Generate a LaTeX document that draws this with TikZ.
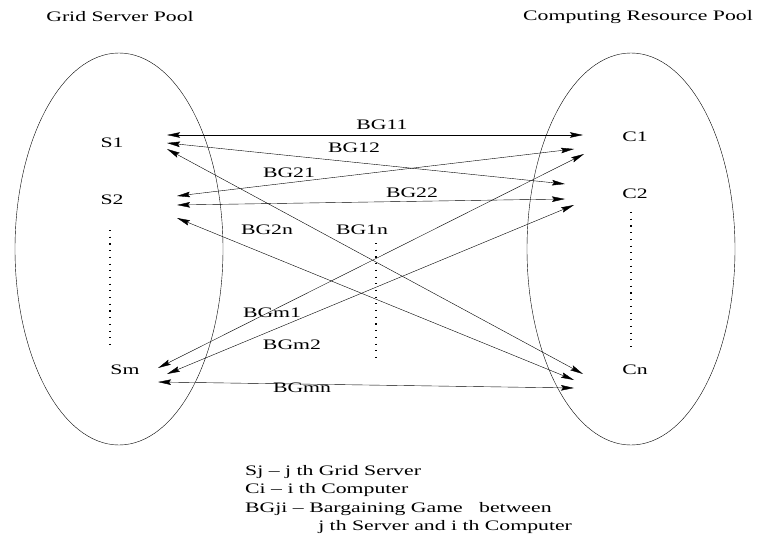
\documentclass[tikz,border=0pt]{standalone}
\usepackage{fontspec}
\setmainfont{Liberation Serif}
\usepackage{graphicx}
\usepackage{tikz}
\usetikzlibrary{calc, shapes.geometric, arrows.meta}

% chu hoi dan ngang nhu hinh goc
\newcommand{\wide}[1]{\scalebox{1.5}[1]{#1}}

\begin{document}
\begin{tikzpicture}[x=1pt, y=-1pt, >={Stealth[length=13pt, width=5.5pt, inset=2pt]},
    lbl/.style={font={\fontsize{14.5}{18.5}\selectfont}, inner sep=0pt},
    pool/.style={draw, thin, ellipse, minimum width=208pt, minimum height=392pt, inner sep=0pt},
    link/.style={<->, thin},
    dotline/.style={line width=1.1pt, dash pattern=on 1.1pt off 5.6pt}]

    % =================================================================
    % 1. KHUNG VA HAI TAP HOP
    % =================================================================
    \useasboundingbox (0,0) rectangle (760,540);

    \node[pool] (ServerPool) at (119,249) {};
    \node[pool] (ResourcePool) at (631,249) {};

    \node[lbl] (ServerTitle) at (120,17) {\wide{Grid Server Pool}};
    \node[lbl] (ResourceTitle) at (638,17) {\wide{Computing Resource Pool}};

    % =================================================================
    % 2. CAC NUT S VA C
    % =================================================================
    \node[lbl] (S1) at (112,143) {\wide{S1}};
    \node[lbl] (S2) at (112,200) {\wide{S2}};
    \node[lbl] (Sm) at (125,370) {\wide{Sm}};

    \node[lbl] (C1) at (635,137) {\wide{C1}};
    \node[lbl] (C2) at (635,194) {\wide{C2}};
    \node[lbl] (Cn) at (635,370) {\wide{Cn}};

    % cac dau cham doc
    \draw[dotline] (110,230) -- (110,345);
    \draw[dotline] (631,212) -- (631,347);
    \draw[dotline] (376,243) -- (376,358);

    % =================================================================
    % 3. CAC MUI TEN HAI CHIEU (TRO CHOI MAC CA)
    % =================================================================
    \draw[link] ($(S1)+(55,-8)$) -- ($(C1)+(-52,-2)$);
    \draw[link] ($(S1)+(55,0)$) -- ($(C2)+(-70,-10)$);
    \draw[link] ($(S1)+(55,6)$) -- ($(Cn)+(-52,4)$);

    \draw[link] ($(S2)+(65,-4)$) -- ($(C1)+(-61,12)$);
    \draw[link] ($(S2)+(65,5)$) -- ($(C2)+(-70,5)$);
    \draw[link] ($(S2)+(65,18)$) -- ($(Cn)+(-61,10)$);

    \draw[link] ($(Sm)+(33,-2)$) -- ($(C1)+(-51,17)$);
    \draw[link] ($(Sm)+(42,4)$) -- ($(C2)+(-61,11)$);
    \draw[link] ($(Sm)+(33,12)$) -- ($(Cn)+(-61,18)$);

    % nhan tren cac mui ten
    \node[lbl] (bg11) at (382,125) {\wide{BG11}};
    \node[lbl] (bg12) at (354,148) {\wide{BG12}};
    \node[lbl] (bg21) at (289,173) {\wide{BG21}};
    \node[lbl] (bg22) at (412,193) {\wide{BG22}};
    \node[lbl] (bg2n) at (267,230) {\wide{BG2n}};
    \node[lbl] (bg1n) at (362,230) {\wide{BG1n}};
    \node[lbl] (bgm1) at (272,313) {\wide{BGm1}};
    \node[lbl] (bgm2) at (292,345) {\wide{BGm2}};
    \node[lbl] (bgmn) at (302,388) {\wide{BGmn}};

    % =================================================================
    % 4. CHU THICH
    % =================================================================
    \node[lbl, anchor=north west] (legend) at (245,462)
        {\wide{\begin{tabular}{@{}l@{}}
         Sj – j th Grid Server\\
         Ci – i th Computer\\
         BGji – Bargaining Game \ \ between\\
         \hspace*{48.7pt}j th Server and i th Computer
         \end{tabular}}};

\end{tikzpicture}
\end{document}
